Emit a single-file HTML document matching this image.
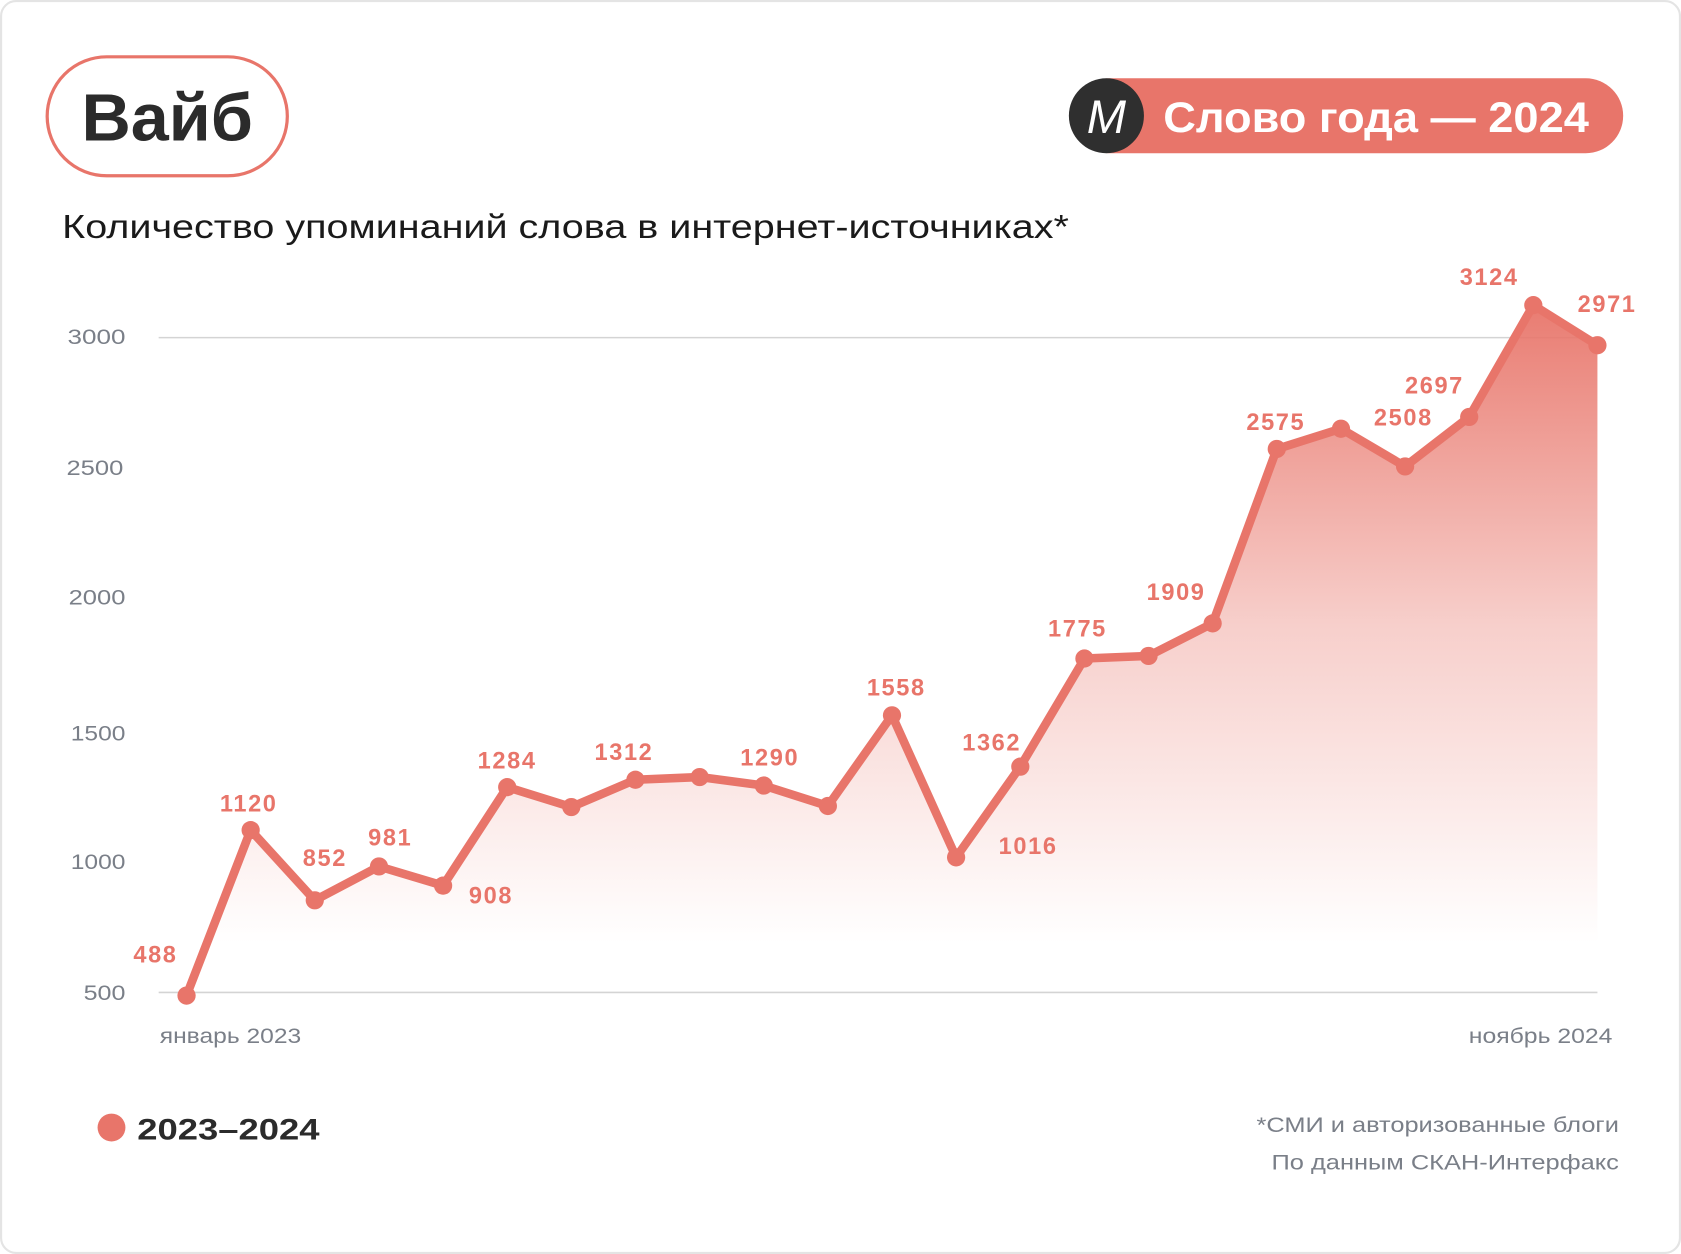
<!DOCTYPE html>
<html><head><meta charset="utf-8"><style>
html,body{margin:0;padding:0;background:#fff;}
svg{display:block;}
text{font-family:"Liberation Sans","DejaVu Sans",sans-serif;}
</style></head><body>
<svg width="1681" height="1254" viewBox="0 0 1681 1254" xmlns="http://www.w3.org/2000/svg">
<defs>
<linearGradient id="g" x1="0" y1="285" x2="0" y2="880" gradientUnits="userSpaceOnUse">
<stop offset="0" stop-color="#e8756a" stop-opacity="0.95"/>
<stop offset="0.5" stop-color="#e8756a" stop-opacity="0.35"/>
<stop offset="1" stop-color="#e8756a" stop-opacity="0"/>
</linearGradient>
</defs>
<g transform="scale(1.0721,1.0718)">
<rect x="1" y="1" width="1566" height="1168" rx="14" fill="#fff" stroke="#e4e4e4" stroke-width="2"/>
<rect x="44" y="53" width="224" height="111" rx="55.5" fill="#fff" stroke="#e8756a" stroke-width="3"/>
<text x="76" y="131" font-size="62" font-weight="bold" fill="#2b2b2b" textLength="160" lengthAdjust="spacingAndGlyphs">Вайб</text>
<rect x="1000" y="73" width="514" height="70" rx="35" fill="#e8756a"/>
<circle cx="1032" cy="108" r="35" fill="#2f2f2f"/>
<text x="1032" y="124" text-anchor="middle" font-size="44" font-family="Liberation Serif" font-style="italic" fill="#fff">M</text>
<text x="1085" y="123" font-size="40" font-weight="bold" fill="#fff" textLength="397" lengthAdjust="spacingAndGlyphs">Слово года — 2024</text>
<text x="58" y="222" font-size="31" fill="#1a1a1a" textLength="939" lengthAdjust="spacingAndGlyphs">Количество упоминаний слова в интернет-источниках*</text>
<line x1="148" y1="315" x2="1490" y2="315" stroke="#d4d4d4" stroke-width="1.5"/>
<line x1="148" y1="926" x2="1490" y2="926" stroke="#d4d4d4" stroke-width="1.5"/>
<g font-size="20" fill="#7a7f88">
<text x="63" y="321" textLength="54" lengthAdjust="spacingAndGlyphs">3000</text>
<text x="62" y="443" textLength="53" lengthAdjust="spacingAndGlyphs">2500</text>
<text x="64" y="564" textLength="53" lengthAdjust="spacingAndGlyphs">2000</text>
<text x="66" y="691" textLength="51" lengthAdjust="spacingAndGlyphs">1500</text>
<text x="66" y="811" textLength="51" lengthAdjust="spacingAndGlyphs">1000</text>
<text x="78" y="933" textLength="39" lengthAdjust="spacingAndGlyphs">500</text>
</g>
<text x="149" y="973" font-size="20" fill="#7a7f88" textLength="132" lengthAdjust="spacingAndGlyphs">январь 2023</text>
<text x="1370" y="973" font-size="20" fill="#7a7f88" textLength="134" lengthAdjust="spacingAndGlyphs">ноябрь 2024</text>
<polygon fill="url(#g)" points="174,926 174,928.9 233.8,774.5 293.6,840 353.5,808.4 413.3,826.3 473.1,734.4 532.9,753 592.7,727.5 652.6,725 712.4,732.9 772.2,752 832,667.4 891.8,799.9 951.7,715.3 1011.5,614.4 1071.3,612 1131.1,581.6 1190.9,418.9 1250.8,400 1310.6,435.2 1370.4,389 1430.2,284.7 1490,322.1 1490,926"/>
<polyline fill="none" stroke="#e8756a" stroke-width="8" stroke-linejoin="round" stroke-linecap="round" points="174,928.9 233.8,774.5 293.6,840 353.5,808.4 413.3,826.3 473.1,734.4 532.9,753 592.7,727.5 652.6,725 712.4,732.9 772.2,752 832,667.4 891.8,799.9 951.7,715.3 1011.5,614.4 1071.3,612 1131.1,581.6 1190.9,418.9 1250.8,400 1310.6,435.2 1370.4,389 1430.2,284.7 1490,322.1"/>
<g fill="#e8756a">
<circle cx="174" cy="928.9" r="8.5"/><circle cx="233.8" cy="774.5" r="8.5"/><circle cx="293.6" cy="840" r="8.5"/><circle cx="353.5" cy="808.4" r="8.5"/><circle cx="413.3" cy="826.3" r="8.5"/><circle cx="473.1" cy="734.4" r="8.5"/><circle cx="532.9" cy="753" r="8.5"/><circle cx="592.7" cy="727.5" r="8.5"/><circle cx="652.6" cy="725" r="8.5"/><circle cx="712.4" cy="732.9" r="8.5"/><circle cx="772.2" cy="752" r="8.5"/><circle cx="832" cy="667.4" r="8.5"/><circle cx="891.8" cy="799.9" r="8.5"/><circle cx="951.7" cy="715.3" r="8.5"/><circle cx="1011.5" cy="614.4" r="8.5"/><circle cx="1071.3" cy="612" r="8.5"/><circle cx="1131.1" cy="581.6" r="8.5"/><circle cx="1190.9" cy="418.9" r="8.5"/><circle cx="1250.8" cy="400" r="8.5"/><circle cx="1310.6" cy="435.2" r="8.5"/><circle cx="1370.4" cy="389" r="8.5"/><circle cx="1430.2" cy="284.7" r="8.5"/><circle cx="1490" cy="322.1" r="8.5"/>
</g>
<g font-size="22" font-weight="bold" fill="#e8756a" text-anchor="middle" letter-spacing="1.5">
<text x="145" y="898">488</text><text x="232" y="757">1120</text><text x="303" y="808">852</text>
<text x="364" y="789">981</text><text x="458" y="843">908</text><text x="473" y="717">1284</text>
<text x="582" y="709">1312</text><text x="718" y="714">1290</text><text x="836" y="649">1558</text>
<text x="925" y="700">1362</text><text x="959" y="797">1016</text><text x="1005" y="594">1775</text>
<text x="1097" y="560">1909</text><text x="1190" y="401">2575</text><text x="1309" y="397">2508</text>
<text x="1338" y="367">2697</text><text x="1389" y="266">3124</text><text x="1499" y="291">2971</text>
</g>
<circle cx="104" cy="1052" r="13" fill="#e8756a"/>
<text x="128" y="1063" font-size="28" font-weight="bold" fill="#2b2b2b" textLength="170" lengthAdjust="spacingAndGlyphs">2023–2024</text>
<text x="1172" y="1056" font-size="20" fill="#7a7f88" textLength="338" lengthAdjust="spacingAndGlyphs">*СМИ и авторизованные блоги</text>
<text x="1186" y="1091" font-size="20" fill="#7a7f88" textLength="324" lengthAdjust="spacingAndGlyphs">По данным СКАН-Интерфакс</text>
</g>
</svg>
</body></html>
